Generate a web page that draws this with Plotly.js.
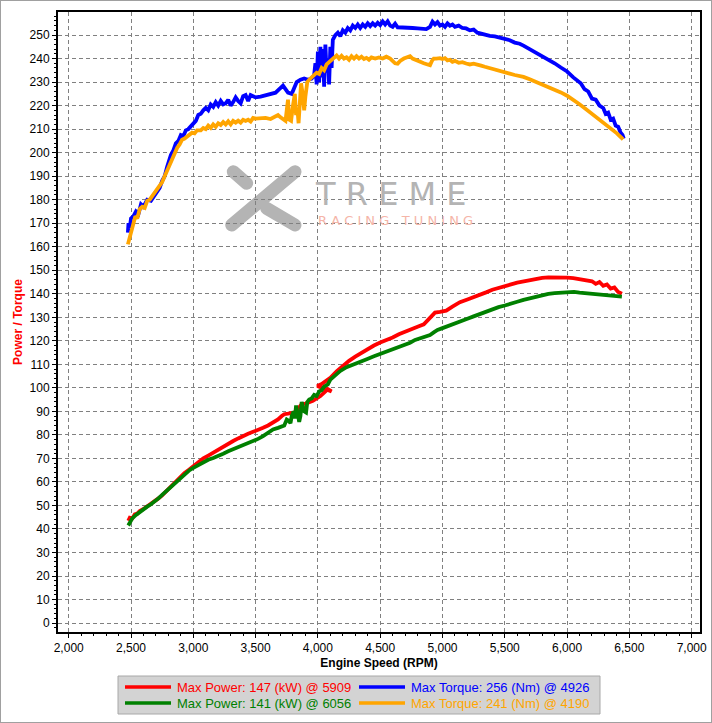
<!DOCTYPE html>
<html>
<head>
<meta charset="utf-8">
<script src="https://cdn.plot.ly/plotly-3.0.1.min.js"></script>
<style>
html,body{margin:0;padding:0;background:#fff;}
#wrap{position:relative;width:712px;height:723px;}
#chart{width:712px;height:723px;}
#frame{position:absolute;left:0;top:0;width:712px;height:723px;box-sizing:border-box;border:1px solid #a0a0a0;pointer-events:none;}
</style>
</head>
<body>
<div id="wrap"><div id="chart"></div><div id="frame"></div></div>
<script>
// ---- Data ----
const legendLabels = [
  "Max Power: 147 (kW) @ 5909",
  "Max Torque: 256 (Nm) @ 4926",
  "Max Power: 141 (kW) @ 6056",
  "Max Torque: 241 (Nm) @ 4190"
];
const seriesColors = ["#ff0000", "#0000ff", "#008000", "#ffa500"];

const rpmRed = [2478,2490,2510,2530,2550,2570,2600,2630,2660,2690,2720,2750,2780,2810,2840,2870,2900,2930,2960,3000,3040,3080,3120,3160,3200,3240,3280,3320,3360,3400,3440,3480,3520,3560,3600,3640,3680,3710,3730,3760,3790,3810,3830,3850,3870,3900,3930,3960,3990,4020,4050,4080,4110,3995,4030,4060,4100,4150,4200,4250,4300,4350,4400,4450,4500,4550,4600,4650,4700,4750,4800,4850,4880,4910,4940,4980,5030,5080,5140,5200,5250,5300,5350,5400,5450,5500,5550,5600,5650,5700,5750,5800,5850,5909,5950,6000,6050,6100,6150,6200,6230,6260,6290,6320,6350,6380,6410,6440];
const powerRed = [43.5,44.8,44.5,46.2,46.5,47.6,48.5,49.6,50.3,51.6,53,54.3,55.9,57.5,59.3,61,62.6,63.8,65,66.7,68.3,70,71.2,72.5,73.6,74.7,76,77.4,78.5,79.6,80.5,81.3,82,83,84,85.2,86.6,88,88.8,89,89.3,89.5,90.5,92,93,93.3,93.7,94.5,95.5,96.5,98,99.5,98.5,100.8,101.6,102.6,104.3,107,109.3,111.5,113.3,115,116.7,118,119.3,120.3,121.4,122.8,124,125,126,127,128.5,130.5,132,132.3,132.8,134.5,136.4,137.6,138.5,139.6,140.6,141.7,142.6,143.3,144,144.7,145.3,145.9,146.5,146.8,147,147.1,147,146.9,146.7,146.3,145.8,145.3,144.2,145,143.4,144,142.2,142.7,140.8,140];

const rpmGreen = [2478,2490,2510,2540,2570,2600,2630,2660,2690,2720,2750,2780,2810,2840,2870,2900,2940,2970,3000,3040,3080,3120,3160,3200,3240,3280,3320,3360,3400,3440,3480,3520,3560,3600,3640,3680,3710,3730,3750,3765,3780,3790,3805,3815,3825,3840,3850,3860,3870,3880,3890,3905,3915,3930,3950,3970,3990,4010,4030,4050,4080,4100,4140,4180,4230,4285,4340,4392,4450,4500,4550,4600,4650,4700,4740,4780,4820,4860,4900,4930,4960,5000,5050,5100,5150,5200,5250,5300,5350,5400,5450,5500,5550,5600,5650,5700,5750,5800,5850,5900,5950,6000,6056,6100,6150,6200,6250,6300,6350,6400,6440];
const powerGreen = [41.5,43,44.5,46,47.3,48.3,49.5,50.5,51.6,53,54.5,55.9,57.5,59,60.6,62,63.8,65,66,67.2,68.3,69.4,70.2,70.9,72,73,73.9,74.7,75.5,76.3,77.3,78.3,79.5,81,82.3,83,83.5,84,86.5,86,85,88,90,87,92.5,89,85.5,88,94,92,90,89.5,94,95,95.5,97,96.5,98.5,99,100.5,101.5,103.5,105.5,107.2,108.8,110.1,111.2,112.2,113.4,114.4,115.4,116.4,117.4,118.3,119.2,120.4,121.2,122,122.5,123.6,124.6,125.4,126.5,127.4,128.4,129.4,130.4,131.4,132.5,133.5,134.3,135,135.6,136.6,137.4,138.1,138.8,139.5,140,140.3,140.5,140.6,140.8,140.5,140.2,139.9,139.6,139.4,139.3,139,138.8];

const rpmBlue = [2475,2480,2490,2500,2520,2540,2560,2580,2600,2630,2660,2690,2710,2730,2750,2770,2790,2805,2820,2840,2860,2880,2900,2920,2940,2960,2980,3000,3020,3040,3060,3080,3100,3120,3140,3160,3180,3200,3220,3240,3260,3280,3300,3320,3340,3360,3380,3400,3420,3440,3460,3480,3500,3540,3580,3620,3660,3690,3720,3740,3760,3790,3810,3830,3860,3890,3920,3950,3970,3980,3990,4000,4010,4020,4030,4040,4050,4060,4070,4080,4090,4100,4110,4120,4140,4160,4180,4200,4220,4240,4260,4280,4300,4320,4340,4360,4380,4400,4420,4440,4460,4480,4500,4520,4540,4560,4580,4600,4620,4640,4680,4720,4760,4800,4840,4870,4900,4920,4940,4960,4980,5000,5020,5040,5060,5080,5100,5130,5160,5190,5220,5250,5280,5310,5340,5380,5420,5460,5500,5540,5580,5620,5650,5700,5750,5800,5850,5900,5950,6000,6050,6080,6110,6140,6170,6200,6230,6260,6290,6310,6330,6350,6370,6390,6410,6430,6445,6455];
const torqueBlue = [166,170,168,172,173,175,174,178,177,180,179.5,182,184,185,188,190,194,197,199,201,204,205,207.5,207,209.5,210,211,212.5,213.5,216,216.5,218,219,218,220.5,219.5,221.5,220,222,220.5,221,222.5,220,221.5,223.5,222,221,224,224.5,222,224.5,224,223.5,223.8,224.5,225,225.5,227,228.5,227,225.5,225,227.5,230,231,231.5,231,231.5,233,238,229,243,230,245,232,244,228,246,234,240,229,245,236,248,250,251,249.5,252,251,253,252,254,253,254.5,253,254.5,253.5,255,253.8,255,254,255.2,254.2,255.8,254.5,255.8,254,253.5,254.8,253.3,253.2,253.3,253,252.8,252.7,252.5,253.5,255.7,254.5,255.5,254,254.5,253.5,255,254,254.5,253.5,254,253,252.8,252,252.3,251,250.5,250,249.7,249.4,249,248.3,247.8,246.8,246.3,245.5,244,242.7,241,239.6,238,236.2,234.5,232,230.8,229.5,227,226,223,222.5,220,219,216.5,217,214,214.5,211.5,211,208.5,207.5,206];

const rpmOrange = [2475,2485,2495,2505,2520,2535,2550,2570,2590,2610,2630,2650,2670,2690,2710,2730,2750,2770,2790,2810,2830,2850,2870,2890,2910,2930,2950,2970,2990,3010,3030,3060,3080,3100,3120,3140,3160,3180,3200,3220,3240,3260,3280,3300,3320,3340,3360,3380,3400,3420,3440,3460,3480,3500,3540,3580,3620,3650,3680,3700,3720,3740,3750,3760,3770,3785,3800,3815,3825,3835,3845,3855,3865,3875,3890,3900,3915,3930,3950,3970,3990,4010,4030,4050,4070,4090,4110,4130,4150,4170,4190,4210,4230,4250,4270,4290,4310,4330,4350,4370,4390,4410,4430,4460,4490,4520,4550,4580,4600,4620,4640,4660,4690,4720,4740,4760,4780,4800,4820,4850,4880,4900,4915,4930,4950,4980,5000,5020,5040,5060,5080,5100,5130,5160,5190,5220,5250,5280,5310,5340,5380,5420,5460,5500,5540,5580,5620,5650,5700,5750,5800,5850,5900,5950,6000,6050,6100,6150,6200,6250,6300,6350,6400,6450];
const torqueOrange = [161,163,166,167.5,170,173,172,176,177,176.5,179.5,180,181.5,183,184,186,187.5,190,192.5,195,198,200.5,202,203.5,205.5,206,207,207.5,208.5,208.2,209.5,209.5,210.5,210,211.5,210.5,212,211,212.5,211.8,213,212,213.3,212,213.5,212.8,213.6,212.8,214,213.5,214,213.2,214.8,214.5,214.5,214.8,214.3,215,216,215,214,213.5,218,222.5,214,213.5,220,225,216,219,212.5,222,229.5,226,218,224,230,231,232,232.5,234,233.5,236,235,237.5,238.5,239.5,240.5,241.3,240,241.2,240,240.5,239.5,241,240,241,240,240.8,239.8,240.3,239.5,240.5,240,240.5,240,240.8,240,239,238,237.8,239,240,240.5,241,240,239.5,239,238.5,238,237.5,237.2,239,240,240,240.2,239.8,240.2,239.2,239.5,238.6,239,238.2,238.5,237.9,237.5,237.8,237.2,237,236.5,236,235.3,234.8,234.2,233.6,233,232.6,232.2,231.2,230.1,229,228.2,226.8,225.6,224.2,222.6,220.6,218.6,216.6,214.6,212.6,210.4,208.2,205.6];

const xTickLabelsFormat = ",d";
const xAxisTitle = "Engine Speed (RPM)";
const yAxisTitle = "Power / Torque";

// ---- Layout helpers (pixel -> paper) ----
const M = {l:58, r:12, t:12, b:91, autoexpand: false};
const PW = 712 - M.l - M.r, PH = 723 - M.t - M.b;
const pxX = x => (x - M.l) / PW;
const pxY = y => (M.t + PH - y) / PH;
const FONT = "Liberation Sans, Arial, sans-serif";

const data = [0, 1, 2, 3].map(i => {
  const xs = [rpmRed, rpmBlue, rpmGreen, rpmOrange][i];
  const ys = [powerRed, torqueBlue, powerGreen, torqueOrange][i];
  return {
    x: xs, y: ys, type: "scatter", mode: "lines",
    line: {color: seriesColors[i], width: 3.8},
    name: legendLabels[i], showlegend: false, hoverinfo: "skip"
  };
});

// Watermark logo (decoration)
const grayLogo = "#b4b4b4";
const logoSegs = [
  [233.3,171.7,246.7,183.3],
  [295,171.7,231.7,225],
  [266.7,208.3,295,225]
];
const shapes = logoSegs.map(s => ({
  type: "line", xref: "paper", yref: "paper", layer: "below",
  x0: pxX(s[0]), y0: pxY(s[1]), x1: pxX(s[2]), y1: pxY(s[3]),
  line: {color: grayLogo, width: 13}
}));
const annotations = [
  {xref: "paper", yref: "paper", x: pxX(391), y: pxY(173.6), text: "T R E M E",
   showarrow: false, xanchor: "center", yanchor: "top", borderpad: 0,
   font: {family: "DejaVu Sans", size: 32, color: grayLogo}},
  {xref: "paper", yref: "paper", x: pxX(395), y: pxY(211.6), text: "R A C I N G   T U N I N G",
   showarrow: false, xanchor: "center", yanchor: "top", borderpad: 0,
   font: {family: "DejaVu Sans", size: 13, color: "#f5b5a8"}}
];

// Legend box drawn as shapes + text (2 x 2 grid: red, blue / green, orange)
shapes.push({
  type: "rect", xref: "paper", yref: "paper", layer: "above",
  x0: pxX(118), x1: pxX(600), y0: pxY(676), y1: pxY(714),
  fillcolor: "#d3d3d3", line: {color: "#a8a8a8", width: 1}
});
const colX = [125, 359], rowY = [687, 703];
for (let i = 0; i < 4; i++) {
  const cx = colX[i % 2], ry = rowY[Math.floor(i / 2)];
  shapes.push({
    type: "line", xref: "paper", yref: "paper", layer: "above",
    x0: pxX(cx), x1: pxX(cx + 46), y0: pxY(ry), y1: pxY(ry),
    line: {color: seriesColors[i], width: 3.5}
  });
  annotations.push({
    xref: "paper", yref: "paper", x: pxX(cx + 51), y: pxY(ry), text: legendLabels[i],
    showarrow: false, xanchor: "left", yanchor: "middle", borderpad: 0,
    font: {family: FONT, size: 13, color: seriesColors[i]}
  });
}

const axisCommon = {
  showline: true, mirror: true, linecolor: "#000", linewidth: 2,
  ticks: "outside", ticklen: 4, tickcolor: "#000", tickwidth: 1,
  showgrid: true, gridcolor: "#808080", gridwidth: 1, griddash: "4px,3px",
  zeroline: false,
  tickfont: {family: FONT, size: 12, color: "#000"}
};

const layout = {
  width: 712, height: 723,
  margin: M,
  paper_bgcolor: "#fff", plot_bgcolor: "#fff",
  showlegend: false,
  xaxis: Object.assign({}, axisCommon, {
    range: [1914, 7067], tickmode: "linear", tick0: 2000, dtick: 500,
    tickformat: xTickLabelsFormat,
    minor: {dtick: 100, ticks: "outside", ticklen: 2, tickcolor: "#000", showgrid: false},
    title: {text: xAxisTitle, standoff: 4, font: {family: FONT, size: 12, color: "#000", weight: "bold"}}
  }),
  yaxis: Object.assign({}, axisCommon, {
    range: [-3.8, 259.8], tickmode: "linear", tick0: 0, dtick: 10,
    minor: {dtick: 2, ticks: "outside", ticklen: 2, tickcolor: "#000", showgrid: false},
    title: {text: yAxisTitle, standoff: 4, font: {family: FONT, size: 12, color: "#ff0000", weight: "bold"}}
  }),
  shapes: shapes,
  annotations: annotations
};

Plotly.newPlot("chart", data, layout, {staticPlot: true, displayModeBar: false}).then(() => {
  document.querySelectorAll(".layer-below .shapelayer path").forEach(p => { p.style.strokeLinecap = "round"; });
});
</script>
</body>
</html>
